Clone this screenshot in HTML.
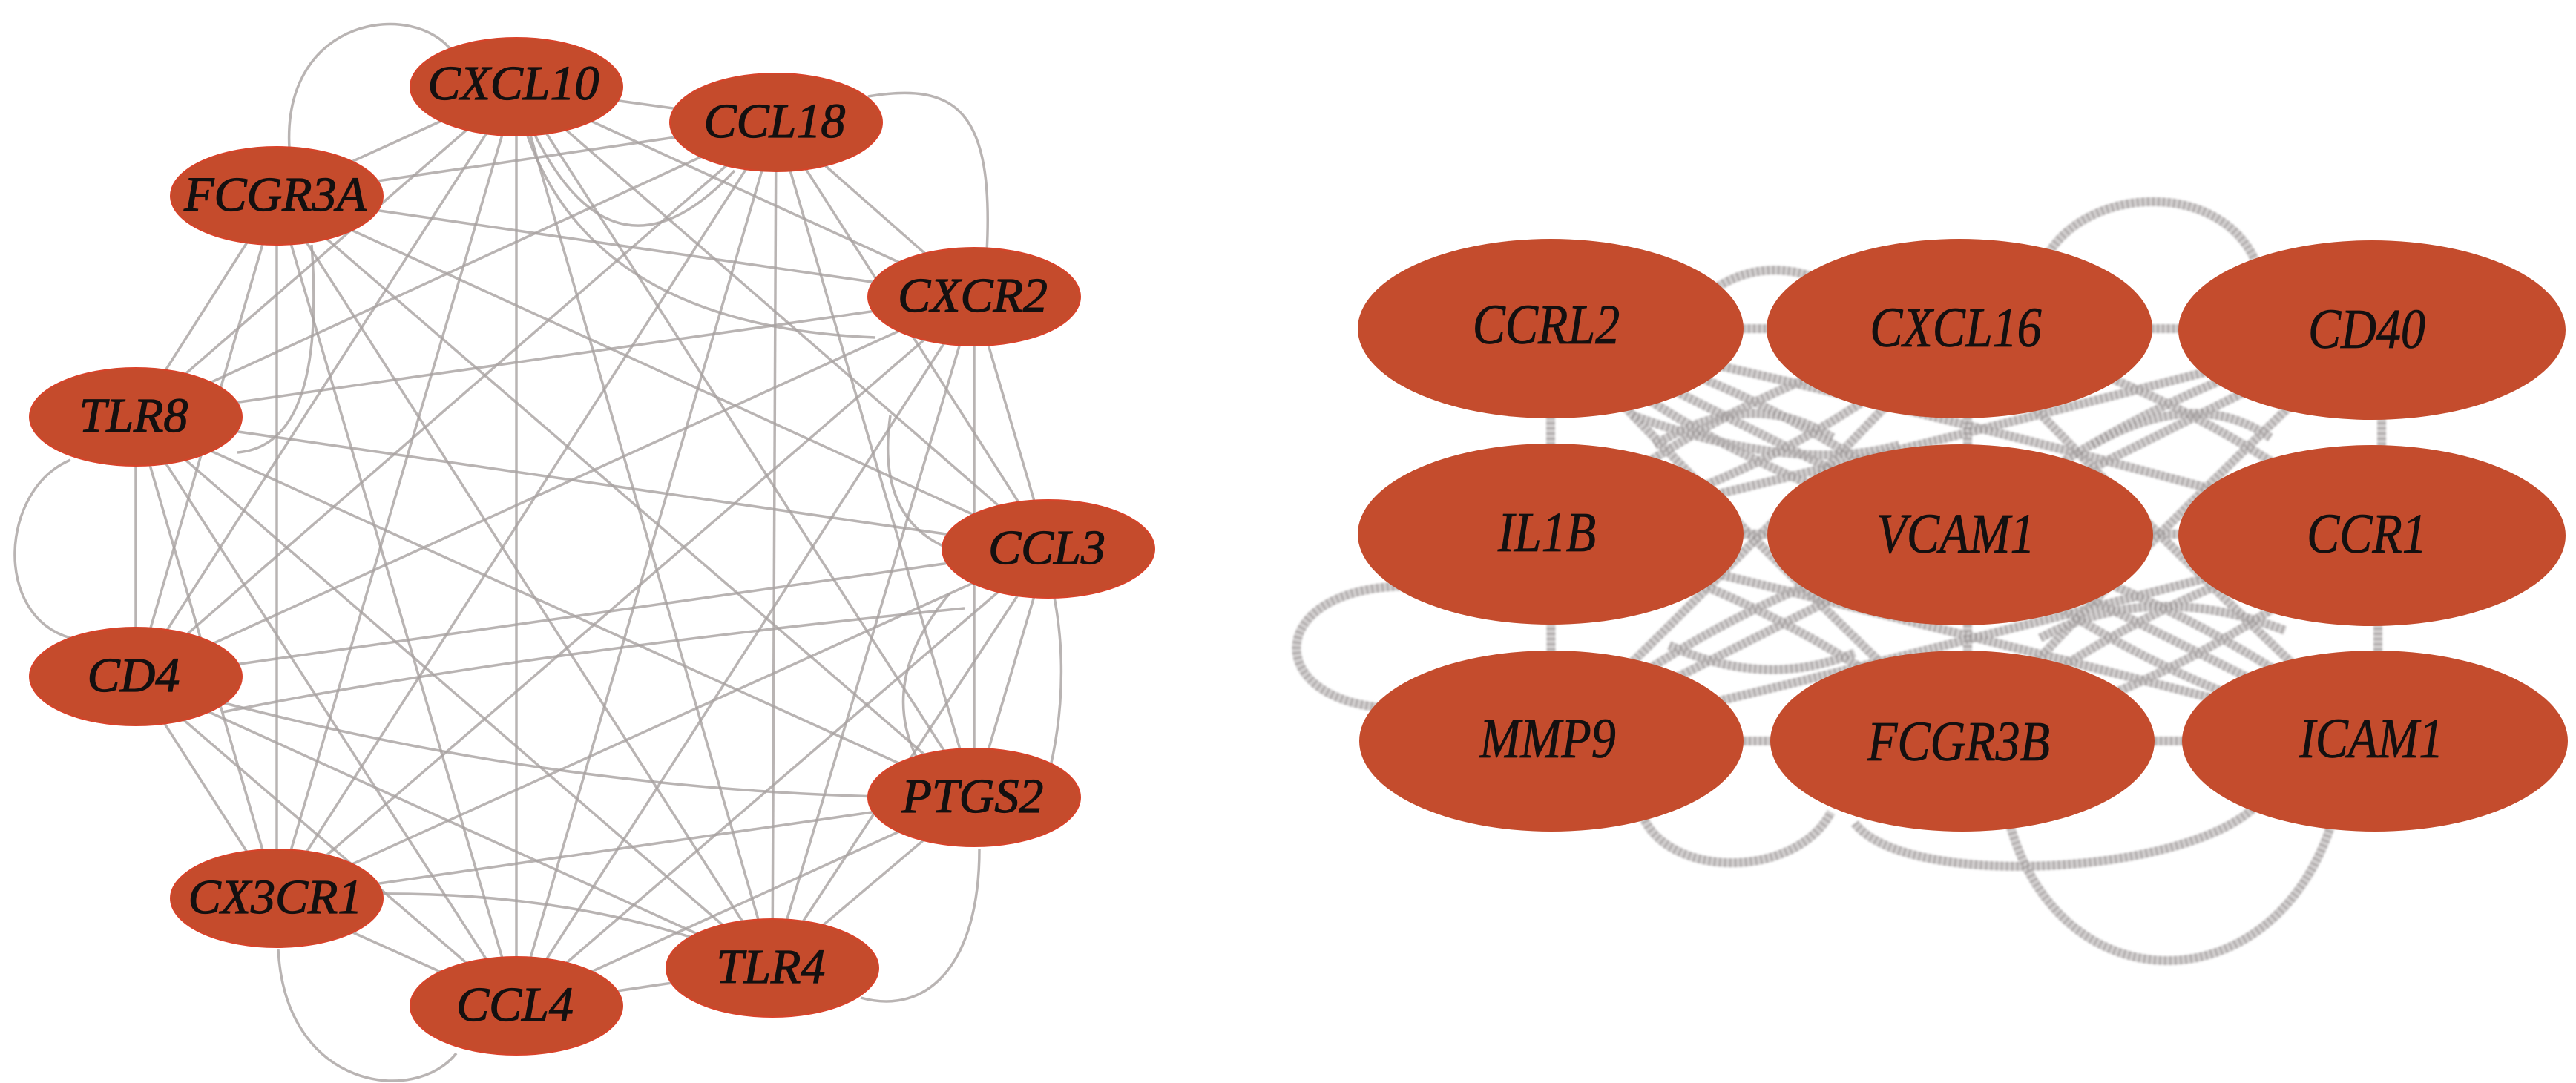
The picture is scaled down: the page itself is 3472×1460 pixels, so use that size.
<!DOCTYPE html>
<html><head><meta charset="utf-8"><style>
html,body{margin:0;padding:0;background:#fff;}
svg{display:block;}
.lt{font-family:"Liberation Serif","Times New Roman",serif;font-style:italic;font-size:66px;fill:#141010;stroke:#141010;stroke-width:1.2;text-anchor:middle;}
.rt{font-family:"Liberation Serif","Times New Roman",serif;font-style:italic;font-size:76px;fill:#141010;stroke:#141010;stroke-width:0.8;text-anchor:middle;}
</style></head><body>
<svg width="3472" height="1460" viewBox="0 0 3472 1460" xmlns="http://www.w3.org/2000/svg">
<rect width="3472" height="1460" fill="#fff"/>
<defs>
<filter id="soft" x="-5%" y="-5%" width="110%" height="110%"><feGaussianBlur stdDeviation="1.2"/></filter>
<g id="redges" fill="none">
<path d="M2090,443 L2641,443"/><path d="M2641,443 L3197,443"/>
<path d="M2090,720 L2642,720"/><path d="M2642,720 L3197,720"/>
<path d="M2091,999 L2645,999"/><path d="M2645,999 L3201,999"/>
<path d="M2090,443 L2090,720"/><path d="M2090,720 L2091,999"/>
<path d="M2652,443 L2652,999"/><path d="M3210,443 L3210,720"/><path d="M3205,720 L3205,999"/>
<path d="M2090,443 Q2400,520 2642,720"/>
<path d="M2641,443 Q2330,520 2090,720"/>
<path d="M2641,443 Q2950,520 3197,720"/>
<path d="M3197,443 Q2880,530 2642,720"/>
<path d="M2090,720 Q2400,800 2645,999"/>
<path d="M2642,720 Q2330,800 2091,999"/>
<path d="M2642,720 Q2950,800 3201,999"/>
<path d="M3197,720 Q2880,800 2645,999"/>
<path d="M2090,443 Q2330,640 2642,720"/>
<path d="M2642,720 Q2880,920 3201,999"/>
<path d="M2641,443 Q2400,650 2090,720"/>
<path d="M3197,720 Q2950,930 2645,999"/>
<path d="M2090,443 Q2640,560 3197,720"/>
<path d="M2090,720 Q2640,590 3197,443"/>
<path d="M2090,720 Q2640,850 3201,999"/>
<path d="M2091,999 Q2640,870 3197,720"/>
<path d="M2090,443 Q2330,700 2645,999"/>
<path d="M2091,999 Q2380,720 2641,443"/>
<path d="M3197,443 Q2900,720 2645,999"/>
<path d="M3201,999 Q2900,720 2641,443"/>
<path d="M2090,443 Q2640,720 3201,999"/>
<path d="M3197,443 Q2640,720 2091,999"/>
<path d="M2200,560 Q2420,640 2560,600"/>
<path d="M2750,860 Q2900,780 3080,850"/>
<path d="M2230,600 Q2360,520 2470,590"/>
<path d="M2820,600 Q2960,520 3060,590"/>
<path d="M2250,870 Q2380,930 2500,880"/>
<path d="M1900,790 C1700,790 1700,950 1880,955"/>
<path d="M2710,1115 C2780,1355 3060,1355 3141,1115"/>
<path d="M2214,1100 C2250,1185 2420,1185 2468,1095"/>
<path d="M2500,1110 C2570,1200 2950,1180 3042,1085"/>
<path d="M2762,340 C2820,250 2990,245 3039,350"/>
<path d="M2310,390 Q2370,350 2440,372"/>
</g>
</defs>
<!-- right network edges -->
<g filter="url(#soft)">
<use href="#redges" stroke="#d3d0d0" stroke-width="12"/>
<use href="#redges" stroke="#938e8e" stroke-width="12" stroke-dasharray="3 4" stroke-opacity="0.55"/>
</g>

<!-- left network edges -->
<g fill="none" stroke="#a8a1a0" stroke-width="3.5" stroke-opacity="0.8">
<path d="M696,117 L1046,165"/><path d="M696,117 L373,264"/><path d="M696,117 L1313,400"/><path d="M696,117 L183,562"/><path d="M696,117 L1413,740"/><path d="M696,117 L183,915"/><path d="M696,117 L1313,1075"/><path d="M696,117 L373,1211"/><path d="M696,117 L1041,1305"/><path d="M696,117 L696,1356"/>
<path d="M1046,165 L373,264"/><path d="M1046,165 L1313,400"/><path d="M1046,165 L183,562"/><path d="M1046,165 L1413,740"/><path d="M1046,165 L183,915"/><path d="M1046,165 L1313,1075"/><path d="M1046,165 L373,1211"/><path d="M1046,165 L1041,1305"/><path d="M1046,165 L696,1356"/>
<path d="M373,264 L1313,400"/><path d="M373,264 L183,562"/><path d="M373,264 L1413,740"/><path d="M373,264 L183,915"/><path d="M373,264 L1313,1075"/><path d="M373,264 L373,1211"/><path d="M373,264 L1041,1305"/><path d="M373,264 L696,1356"/>
<path d="M1313,400 L183,562"/><path d="M1313,400 L1413,740"/><path d="M1313,400 L183,915"/><path d="M1313,400 L1313,1075"/><path d="M1313,400 L373,1211"/><path d="M1313,400 L1041,1305"/><path d="M1313,400 L696,1356"/>
<path d="M183,562 L1413,740"/><path d="M183,562 L183,915"/><path d="M183,562 L1313,1075"/><path d="M183,562 L373,1211"/><path d="M183,562 L1041,1305"/><path d="M183,562 L696,1356"/>
<path d="M1413,740 L183,915"/><path d="M1413,740 L1313,1075"/><path d="M1413,740 L373,1211"/><path d="M1413,740 L1041,1305"/><path d="M1413,740 L696,1356"/>
<path d="M183,915 Q750,1080 1313,1075"/><path d="M183,915 L373,1211"/><path d="M183,915 L1041,1305"/><path d="M183,915 L696,1356"/>
<path d="M1313,1075 L373,1211"/><path d="M1313,1075 L1041,1305"/><path d="M1313,1075 L696,1356"/>
<path d="M373,1211 Q760,1180 1041,1305"/><path d="M373,1211 L696,1356"/>
<path d="M1041,1305 L696,1356"/>
<!-- extra arcs -->
<path d="M390,200 C380,20 560,0 610,70"/>
<path d="M1170,130 C1290,110 1340,150 1330,340"/>
<path d="M95,620 C0,660 -10,830 95,860"/>
<path d="M375,1280 C385,1470 560,1490 615,1420"/>
<path d="M1160,1345 C1250,1370 1320,1300 1320,1145"/>
<path d="M1420,800 C1440,900 1430,1000 1400,1090"/>
<path d="M710,180 Q800,440 1180,455"/>
<path d="M720,180 Q830,400 990,230"/>
<path d="M1200,560 Q1180,700 1280,740"/>
<path d="M1280,800 Q1180,920 1240,1030"/>
<path d="M420,330 Q440,600 320,610"/>
<path d="M300,960 Q700,880 1300,820"/>
</g>

<!-- left nodes -->
<g fill="#c54b2c" stroke="#d8432a" stroke-width="2">
<ellipse cx="696" cy="117" rx="143" ry="66"/>
<ellipse cx="1046" cy="165" rx="143" ry="66"/>
<ellipse cx="373" cy="264" rx="143" ry="66"/>
<ellipse cx="1313" cy="400" rx="143" ry="66"/>
<ellipse cx="183" cy="562" rx="143" ry="66"/>
<ellipse cx="1413" cy="740" rx="143" ry="66"/>
<ellipse cx="183" cy="912" rx="143" ry="66"/>
<ellipse cx="1313" cy="1075" rx="143" ry="66"/>
<ellipse cx="373" cy="1211" rx="143" ry="66"/>
<ellipse cx="1041" cy="1305" rx="143" ry="66"/>
<ellipse cx="696" cy="1356" rx="143" ry="66"/>
</g>
<g>
<text x="692" y="134" class="lt">CXCL10</text>
<text x="1044" y="185" class="lt">CCL18</text>
<text x="371" y="284" class="lt">FCGR3A</text>
<text x="1311" y="420" class="lt">CXCR2</text>
<text x="180" y="582" class="lt">TLR8</text>
<text x="1411" y="760" class="lt">CCL3</text>
<text x="180" y="932" class="lt">CD4</text>
<text x="1311" y="1095" class="lt">PTGS2</text>
<text x="371" y="1231" class="lt">CX3CR1</text>
<text x="1039" y="1325" class="lt">TLR4</text>
<text x="694" y="1376" class="lt">CCL4</text>
</g>

<!-- right nodes -->
<g fill="#c44c2d">
<ellipse cx="2090" cy="443" rx="260" ry="121"/>
<ellipse cx="2641" cy="443" rx="260" ry="121"/>
<ellipse cx="3197" cy="445" rx="261" ry="121"/>
<ellipse cx="2090" cy="720" rx="260" ry="122"/>
<ellipse cx="2642" cy="721" rx="260" ry="122"/>
<ellipse cx="3197" cy="722" rx="261" ry="122"/>
<ellipse cx="2091" cy="999" rx="259" ry="122"/>
<ellipse cx="2645" cy="999" rx="259" ry="122"/>
<ellipse cx="3201" cy="999" rx="260" ry="122"/>
</g>
<g>
<text class="rt" transform="translate(2084,463) scale(0.87,1)">CCRL2</text>
<text class="rt" transform="translate(2636,467) scale(0.87,1)">CXCL16</text>
<text class="rt" transform="translate(3190,469) scale(0.87,1)">CD40</text>
<text class="rt" transform="translate(2085,743) scale(0.87,1)">IL1B</text>
<text class="rt" transform="translate(2636,745) scale(0.87,1)">VCAM1</text>
<text class="rt" transform="translate(3190,745) scale(0.87,1)">CCR1</text>
<text class="rt" transform="translate(2086,1021) scale(0.87,1)">MMP9</text>
<text class="rt" transform="translate(2640,1025) scale(0.87,1)">FCGR3B</text>
<text class="rt" transform="translate(3196,1021) scale(0.87,1)">ICAM1</text>
</g>
</svg>
</body></html>
